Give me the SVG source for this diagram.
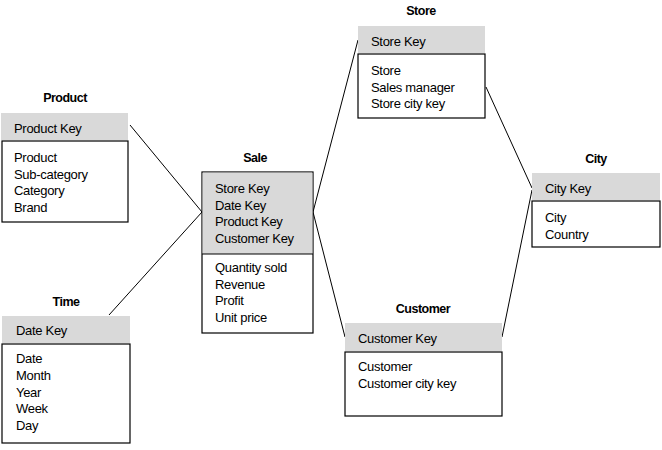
<svg xmlns="http://www.w3.org/2000/svg" width="662" height="450" viewBox="0 0 662 450">
<style>
text{font-family:"Liberation Sans",Arial,sans-serif;font-size:13px;fill:#000;letter-spacing:-0.3px}
.t{font-weight:bold;font-size:12.5px;text-anchor:middle;letter-spacing:-0.5px}
.h{fill:#d9d9d9;stroke:none}
.b{fill:#fff;stroke:#000;stroke-width:1.2}
.c line{stroke:#000;stroke-width:1}
</style>
<rect width="662" height="450" fill="#fff"/>
<g class="c" id="connectors">
<line x1="130" y1="125" x2="202" y2="212"/>
<line x1="109" y1="315" x2="202" y2="212"/>
<line x1="358" y1="40" x2="313" y2="212"/>
<line x1="313" y1="212" x2="345" y2="337"/>
<line x1="486" y1="87" x2="532" y2="188"/>
<line x1="532" y1="190" x2="502" y2="337"/>
</g>
<g id="product">
<text class="t" x="65" y="102">Product</text>
<rect class="h" x="1" y="113" width="127" height="27"/>
<text x="14" y="133">Product Key</text>
<rect class="b" x="2" y="141" width="126" height="81"/>
<text x="14" y="162">Product</text>
<text x="14" y="178.5">Sub-category</text>
<text x="14" y="195">Category</text>
<text x="14" y="211.5">Brand</text>
</g>
<g id="sale">
<text class="t" x="255" y="162">Sale</text>
<rect class="b" x="202" y="172" width="111" height="161"/>
<rect x="202.6" y="172.6" width="109.8" height="81.4" fill="#d9d9d9"/>
<line x1="202" y1="254" x2="313" y2="254" stroke="#000" stroke-width="1.2"/>
<text x="215" y="193">Store Key</text>
<text x="215" y="209.5">Date Key</text>
<text x="215" y="226">Product Key</text>
<text x="215" y="242.5">Customer Key</text>
<text x="215" y="272">Quantity sold</text>
<text x="215" y="288.5">Revenue</text>
<text x="215" y="305">Profit</text>
<text x="215" y="321.5">Unit price</text>
</g>
<g id="store">
<text class="t" x="421" y="15">Store</text>
<rect class="h" x="358" y="26" width="127" height="27"/>
<text x="371" y="46">Store Key</text>
<rect class="b" x="358" y="54" width="127" height="64"/>
<text x="371" y="75">Store</text>
<text x="371" y="91.5">Sales manager</text>
<text x="371" y="108">Store city key</text>
</g>
<g id="city">
<text class="t" x="596" y="163">City</text>
<rect class="h" x="532" y="173" width="128" height="27"/>
<text x="545" y="193">City Key</text>
<rect class="b" x="532" y="201" width="128" height="46"/>
<text x="545" y="222">City</text>
<text x="545" y="238.5">Country</text>
</g>
<g id="time">
<text class="t" x="66" y="306">Time</text>
<rect class="h" x="2" y="316" width="128" height="27"/>
<text x="16" y="335">Date Key</text>
<rect class="b" x="2" y="344" width="128" height="99"/>
<text x="16" y="363">Date</text>
<text x="16" y="380">Month</text>
<text x="16" y="396.5">Year</text>
<text x="16" y="413">Week</text>
<text x="16" y="430">Day</text>
</g>
<g id="customer">
<text class="t" x="423" y="313">Customer</text>
<rect class="h" x="345" y="323" width="157" height="28"/>
<text x="358" y="343">Customer Key</text>
<rect class="b" x="345" y="352" width="157" height="64"/>
<text x="358" y="371">Customer</text>
<text x="358" y="388">Customer city key</text>
</g>
</svg>
